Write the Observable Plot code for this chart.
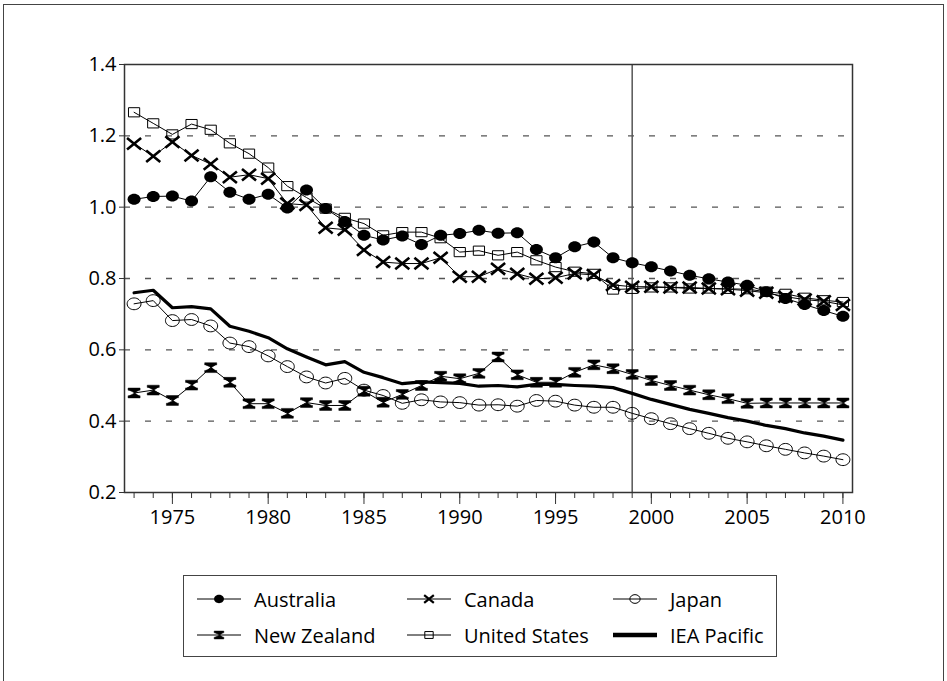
<!DOCTYPE html>
<html>
<head>
<meta charset="utf-8">
<script src="https://cdn.jsdelivr.net/npm/d3@7"></script>
<script src="https://cdn.jsdelivr.net/npm/@observablehq/plot@0.6"></script>
<style>
  body { margin: 0; background: #fff; font-family: "Open Sans", sans-serif; }
  #page { position: relative; width: 947px; height: 681px; overflow: hidden; background: #fff; }
  #border { position: absolute; left: 3px; top: 4px; width: 941px; height: 720px; border: 1.5px solid #444; box-sizing: border-box; z-index: 2; pointer-events: none; }
  #chart { position: absolute; left: 0; top: 0; z-index: 1; }
  #legend { position: absolute; left: 183px; top: 575px; width: 594px; height: 82px; border: 1.5px solid #444; box-sizing: border-box; background: #fff; z-index: 3; }
  .item { position: absolute; display: flex; align-items: center; height: 24px; font-size: 20px; color: #000; white-space: nowrap; }
  .item svg { margin-right: 12px; }
</style>
</head>
<body>
<div id="page">
  <div id="chart"></div>
  <div id="border"></div>
  <div id="legend"></div>
</div>
<script>
// ---------- Data ----------
const years = [1973,1974,1975,1976,1977,1978,1979,1980,1981,1982,1983,1984,1985,1986,1987,1988,1989,1990,1991,1992,1993,1994,1995,1996,1997,1998,1999,2000,2001,2002,2003,2004,2005,2006,2007,2008,2009,2010];

const australia = [1.022,1.030,1.031,1.017,1.085,1.042,1.022,1.036,0.998,1.048,0.996,0.960,
  0.921,0.908,0.919,0.895,0.921,0.926,0.935,0.927,0.928,0.881,
  0.858,0.889,0.902,0.858,0.844,0.833,0.821,0.809,0.799,0.790,
  0.781,0.763,0.744,0.727,0.710,0.694];

const canada = [1.178,1.143,1.183,1.145,1.121,1.084,1.091,1.080,1.010,1.006,0.942,0.937,
  0.880,0.846,0.842,0.842,0.858,0.805,0.805,0.827,0.813,0.799,
  0.802,0.814,0.810,0.782,0.777,0.777,0.775,0.775,0.772,0.770,
  0.766,0.760,0.749,0.741,0.736,0.726];

const japan = [0.729,0.738,0.682,0.685,0.667,0.619,0.609,0.583,0.553,0.524,0.507,0.520,
  0.487,0.472,0.450,0.460,0.454,0.452,0.445,0.446,0.442,0.458,
  0.456,0.445,0.439,0.439,0.422,0.407,0.393,0.379,0.366,0.352,
  0.342,0.331,0.321,0.311,0.302,0.292];

const newZealand = [0.479,0.487,0.458,0.501,0.550,0.509,0.449,0.449,0.422,0.452,0.444,0.444,
  0.484,0.453,0.475,0.500,0.526,0.519,0.534,0.580,0.530,0.509,
  0.509,0.537,0.558,0.547,0.531,0.514,0.500,0.487,0.474,0.463,
  0.450,0.451,0.451,0.451,0.451,0.451];

const unitedStates = [1.266,1.235,1.204,1.233,1.217,1.179,1.150,1.111,1.059,1.027,0.996,0.970,
  0.954,0.921,0.930,0.930,0.913,0.874,0.878,0.865,0.874,0.851,
  0.832,0.819,0.813,0.769,0.771,0.775,0.775,0.772,0.772,0.771,
  0.770,0.763,0.757,0.746,0.739,0.734];

const ieaPacific = [0.760,0.767,0.718,0.721,0.715,0.666,0.652,0.634,0.603,0.580,0.558,0.567,
  0.537,0.522,0.505,0.510,0.508,0.506,0.498,0.500,0.496,0.503,
  0.503,0.500,0.498,0.494,0.478,0.461,0.447,0.433,0.422,0.410,
  0.400,0.388,0.379,0.367,0.358,0.347];

const yTicks = [0.2,0.4,0.6,0.8,1.0,1.2,1.4];
const gridValues = [0.4,0.6,0.8,1.0,1.2];
const xMajorTicks = [1975,1980,1985,1990,1995,2000,2005,2010];
const markerYear = [1999];

// ---------- Custom symbols ----------
const K = 0.5523;
function ellipsePath(ctx, rx, ry) {
  ctx.moveTo(rx, 0);
  ctx.bezierCurveTo(rx, ry*K, rx*K, ry, 0, ry);
  ctx.bezierCurveTo(-rx*K, ry, -rx, ry*K, -rx, 0);
  ctx.bezierCurveTo(-rx, -ry*K, -rx*K, -ry, 0, -ry);
  ctx.bezierCurveTo(rx*K, -ry, rx, -ry*K, rx, 0);
  ctx.closePath();
}
const rOf = size => Math.sqrt(size / Math.PI);
const ellipseSym = { draw(ctx, size) { const r = rOf(size); ellipsePath(ctx, r*1.12, r*0.95); } };
const crossSym = { draw(ctx, size) { const r = rOf(size);
  ctx.moveTo(-r*1.1, -r*0.9); ctx.lineTo(r*1.1, r*0.9);
  ctx.moveTo(-r*1.1, r*0.9); ctx.lineTo(r*1.1, -r*0.9); } };
const rectSym = { draw(ctx, size) { const r = rOf(size); ctx.rect(-r, -r*0.82, 2*r, 1.64*r); } };
const hourglassSym = { draw(ctx, size) { const r = rOf(size);
  const w = r, h = r*0.82, t = r*0.36, tw = 0.78*w;
  ctx.moveTo(-w,-h); ctx.lineTo(w,-h); ctx.lineTo(w,-h+t); ctx.lineTo(-w,-h+t); ctx.closePath();
  ctx.moveTo(-tw,-h+t); ctx.lineTo(tw,-h+t); ctx.lineTo(0,0.4); ctx.lineTo(0,-0.4); ctx.closePath();
  ctx.moveTo(-tw,h-t); ctx.lineTo(tw,h-t); ctx.lineTo(0,-0.4); ctx.lineTo(0,0.4); ctx.closePath();
  ctx.moveTo(-w,h); ctx.lineTo(w,h); ctx.lineTo(w,h-t); ctx.lineTo(-w,h-t); ctx.closePath(); } };

const series = [
  {name: "Australia", values: australia, symbol: ellipseSym, r: 5.8, fill: "black", stroke: "none", sw: 0, lw: 1, lr: 4.4},
  {name: "Canada", values: canada, symbol: crossSym, r: 6.4, fill: "none", stroke: "black", sw: 2.6, lw: 1, lr: 4.4},
  {name: "Japan", values: japan, symbol: ellipseSym, r: 6.2, fill: "none", stroke: "black", sw: 1, lw: 1, lr: 4.6},
  {name: "New Zealand", values: newZealand, symbol: hourglassSym, r: 6.0, fill: "black", stroke: "black", sw: 0.5, lw: 1, lr: 4.8},
  {name: "United States", values: unitedStates, symbol: rectSym, r: 5.6, fill: "none", stroke: "black", sw: 1, lw: 1, lr: 4.2},
  {name: "IEA Pacific", values: ieaPacific, symbol: null, lw: 3.2}
];

const rows = s => years.map((year, i) => ({year, value: s.values[i]}));

const marks = [
  Plot.ruleY(gridValues, {stroke: "#555", strokeWidth: 1.4, strokeDasharray: "6,15"}),
  Plot.ruleX(markerYear, {stroke: "#555", strokeWidth: 1.5}),
  Plot.axisY({ticks: yTicks, tickSize: 5, tickPadding: 3, tickFormat: d => d.toFixed(1), label: null, fontSize: 20, stroke: "#333"}),
  Plot.axisX({ticks: years, tickSize: 6, text: null, label: null, stroke: "#333"}),
  Plot.axisX({ticks: xMajorTicks, tickSize: 12, tickPadding: 5, tickFormat: d => String(d), label: null, fontSize: 20, stroke: "#333"}),
];
for (const s of series) {
  const data = rows(s);
  marks.push(Plot.line(data, {x: "year", y: "value", stroke: "black", strokeWidth: s.lw}));
  if (s.symbol) {
    marks.push(Plot.dot(data, {x: "year", y: "value", symbol: s.symbol, r: s.r, fill: s.fill, stroke: s.stroke, strokeWidth: s.sw}));
  }
}
marks.push(Plot.frame({stroke: "#333", strokeWidth: 1.5}));

const plot = Plot.plot({
  width: 947,
  height: 545,
  marginLeft: 124,
  marginRight: 95,
  marginTop: 64,
  marginBottom: 53,
  x: {domain: [1972.5, 2010.5]},
  y: {domain: [0.2, 1.4]},
  style: {fontFamily: "'Open Sans', sans-serif", fontSize: "20px", color: "black", background: "transparent", overflow: "visible"},
  marks
});
document.getElementById("chart").appendChild(plot);

// ---------- Legend ----------
const legend = document.getElementById("legend");
const colX = [12, 222, 428];
const rowY = [11, 47];
series.forEach((s, i) => {
  const col = i % 3, row = Math.floor(i / 3);
  const div = document.createElement("div");
  div.className = "item";
  div.style.left = colX[col] + "px";
  div.style.top = rowY[row] + "px";
  const ns = "http://www.w3.org/2000/svg";
  const svg = document.createElementNS(ns, "svg");
  svg.setAttribute("width", 46); svg.setAttribute("height", 20);
  const line = document.createElementNS(ns, "line");
  line.setAttribute("x1", 1); line.setAttribute("x2", 45);
  line.setAttribute("y1", 10); line.setAttribute("y2", 10);
  line.setAttribute("stroke", "black");
  line.setAttribute("stroke-width", s.symbol ? 1 : 4.5);
  svg.appendChild(line);
  if (s.symbol) {
    const p = document.createElementNS(ns, "path");
    p.setAttribute("d", d3.symbol(s.symbol, s.lr * s.lr * Math.PI)());
    p.setAttribute("transform", "translate(23,10)");
    p.setAttribute("fill", s.fill);
    p.setAttribute("stroke", s.stroke);
    p.setAttribute("stroke-width", s.sw ? Math.min(s.sw, 2.2) : 0);
    svg.appendChild(p);
  }
  div.appendChild(svg);
  const span = document.createElement("span");
  span.textContent = s.name;
  div.appendChild(span);
  legend.appendChild(div);
});
</script>
</body>
</html>
